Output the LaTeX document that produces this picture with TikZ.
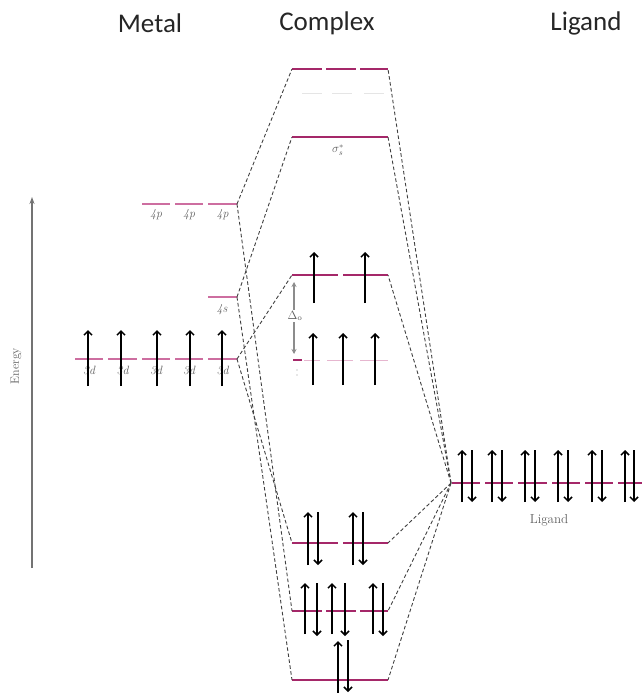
\documentclass[tikz,border=0pt]{standalone}
\usepackage{fontspec}
\newfontfamily\hdrfont{Carlito}
\usetikzlibrary{arrows.meta}
\definecolor{lv}{RGB}{165,40,105}
\definecolor{lvm}{RGB}{205,110,160}
\definecolor{lblc}{RGB}{95,95,95}
\begin{document}
\begin{tikzpicture}[x=1pt,y=-1pt,
  hdr/.style={font=\hdrfont\fontsize{27}{30}\selectfont, text=black!85, inner sep=0pt},
  lbl/.style={font=\fontsize{12}{13}\selectfont\itshape, text=lblc, inner sep=0pt},
  lvlc/.style={draw=lv, line width=1.6pt},
  lvlmet/.style={draw=lvm, line width=1.4pt},
  lvlfaint/.style={draw=lvm!50, line width=0.8pt},
  corr/.style={draw=black!75, dash pattern=on 3.6pt off 2.4pt, line width=0.9pt},
  spin/.style={draw=black, line width=1.8pt, -{Straight Barb[length=4pt,width=8pt,line width=1.5pt]}},
  energyarrow/.style={draw=black!55, line width=1.3pt, -{Stealth[length=7pt,width=5pt]}},
  deltaarrow/.style={draw=black!45, line width=1.5pt, {Stealth[length=5pt,width=5pt]}-{Stealth[length=5pt,width=5pt]}}]
\useasboundingbox (0,0) rectangle (642,693);

% headers
\node[hdr] (metal) at (150,23) {Metal};
\node[hdr] (complex) at (327,23) {Complex};
\node[hdr] (ligand) at (586,23) {Ligand};

% energy axis
\coordinate (ebot) at (32,568);
\coordinate (etop) at (32,197);
\draw[energyarrow] (ebot) -- (etop);
\node[rotate=90, font=\fontsize{12}{13}\selectfont, text=lblc] (energy) at (16,366) {Energy};

% metal levels
\foreach \a/\b [count=\i] in {75/103,108/137,142/170,175/203,208/237}{
  \draw[lvlmet] (\a,359) -- (\b,359);
  \node[lbl] (l3d\i) at ({(\a+\b)/2},370) {3d};
}
\foreach \a/\b [count=\i] in {142/170,175/203,208/237}{
  \draw[lvlmet] (\a,204) -- (\b,204);
  \node[lbl] (l4p\i) at ({(\a+\b)/2},215) {4p};
}
\draw[lvlmet] (208,297) -- (237,297);
\node[lbl] (l4s) at (222,310) {4s};

% metal electrons
\foreach \x in {88,121,157,190,222}{\draw[spin] (\x,386) -- (\x,330);}

% complex levels
\foreach \a/\b in {292/322,326/356,360/388}{\draw[lvlc] (\a,69) -- (\b,69);}
\foreach \a/\b in {302/322,332/352,364/384}{\draw[draw=black!10, line width=0.8pt] (\a,93) -- (\b,93);}
\draw[lvlc] (292,137) -- (388,137);
\node[font=\fontsize{12}{13}\selectfont, text=lblc] (sig) at (338,150) {$\sigma_s^{*}$};
\foreach \a/\b in {292/338,343/388}{\draw[lvlc] (\a,275) -- (\b,275);}
\draw[lvlc] (293,360) -- (302,360);
\foreach \a/\b in {304/320,327/353,360/388}{\draw[lvlfaint] (\a,360) -- (\b,360);}
\foreach \a/\b in {292/338,343/388}{\draw[lvlc] (\a,543) -- (\b,543);}
\foreach \a/\b in {292/322,326/356,360/388}{\draw[lvlc] (\a,611) -- (\b,611);}
\draw[lvlc] (292,680) -- (388,680);

% ligand levels
\foreach \a/\b in {452/480,485/513,518/547,552/580,585/613,618/642}{\draw[lvlc] (\a,483) -- (\b,483);}
\node[font=\fontsize{13}{14}\selectfont, text=lblc] (liglbl) at (549,520) {Ligand};

% delta_o
\coordinate (dtop) at (294,282);
\coordinate (dbot) at (294,354);
\draw[deltaarrow] (dtop) -- (dbot);
\node[fill=white, inner sep=1pt, font=\fontsize{12}{13}\selectfont, text=lblc] (delta) at (295,316) {$\Delta_{\mathrm{o}}$};
\fill[black!40] (297,370) circle (0.6pt) (297,375) circle (0.6pt);

% connector anchors
\coordinate (m4p) at (237,204);
\coordinate (m4s) at (237,297);
\coordinate (m3d) at (237,359);
\coordinate (c1L) at (292,69);  \coordinate (c1R) at (388,69);
\coordinate (c2L) at (292,137); \coordinate (c2R) at (388,137);
\coordinate (c3L) at (292,275); \coordinate (c3R) at (388,275);
\coordinate (c5L) at (292,543); \coordinate (c5R) at (388,543);
\coordinate (c6L) at (292,611); \coordinate (c6R) at (388,611);
\coordinate (c7L) at (292,680); \coordinate (c7R) at (388,680);
\coordinate (lig) at (451,483);

% correlation lines
\draw[corr] (m4p) -- (c1L);
\draw[corr] (m4p) -- (c6L);
\draw[corr] (m4s) -- (c2L);
\draw[corr] (m4s) -- (c7L);
\draw[corr] (m3d) -- (c3L);
\draw[corr] (m3d) -- (c5L);
\foreach \c in {c1R,c2R,c3R,c5R,c6R,c7R}{\draw[corr] (lig) -- (\c);}

% complex electrons
\foreach \x in {314,365}{\draw[spin] (\x,303) -- (\x,252);}
\foreach \x in {313,343,375}{\draw[spin] (\x,385) -- (\x,333);}
\foreach \u/\d in {308/318,353/363}{\draw[spin] (\u,565) -- (\u,512); \draw[spin] (\d,512) -- (\d,565);}
\foreach \u/\d in {305/317,332/345,373/383}{\draw[spin] (\u,634) -- (\u,583); \draw[spin] (\d,583) -- (\d,636);}
\draw[spin] (338,693) -- (338,641);
\draw[spin] (348,640) -- (348,692);

% ligand electrons
\foreach \u/\d in {462/472,492/502,525/535,558/568,592/602,625/634}{\draw[spin] (\u,502) -- (\u,450); \draw[spin] (\d,450) -- (\d,502);}
\end{tikzpicture}
\end{document}
